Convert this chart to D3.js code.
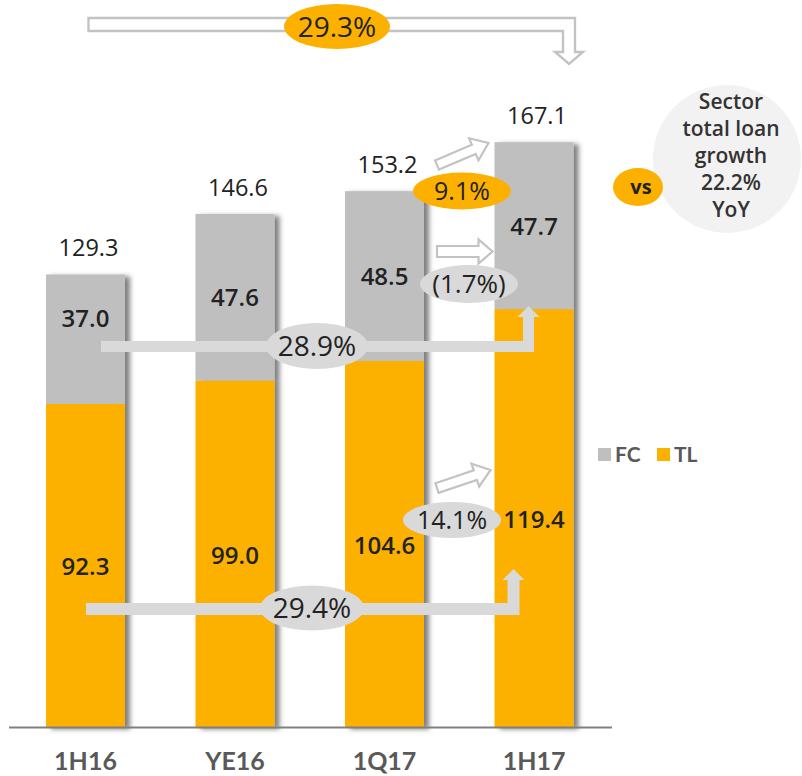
<!DOCTYPE html>
<html>
<head>
<meta charset="utf-8">
<script src="https://cdn.jsdelivr.net/npm/d3@7"></script>
<style>
  html, body { margin: 0; padding: 0; background: #fff; }
  svg { display: block; }
  text { font-family: "Open Sans", "Noto Sans", "DejaVu Sans", sans-serif; }
</style>
</head>
<body>
<svg id="chart" width="802" height="776"></svg>
<script>
// Loan book by currency (TL bn)
const categories  = ["1H16", "YE16", "1Q17", "1H17"];
const tlValues    = [92.3, 99.0, 104.6, 119.4];
const fcValues    = [37.0, 47.6, 48.5, 47.7];
const totalValues = [129.3, 146.6, 153.2, 167.1];
const seriesNames = ["FC", "TL"];

// Growth call-outs: [total, FC, TL]
const yoyLabels = ["29.3%", "28.9%", "29.4%"];   // 1H16 -> 1H17
const qoqLabels = ["9.1%", "(1.7%)", "14.1%"];   // 1Q17 -> 1H17
const sectorLines = ["Sector", "total loan", "growth", "22.2%", "YoY"];
const vsLabel = "vs";

const ORANGE = "#FCB100", GREY = "#BFBFBF", LIGHT = "#D9D9D9",
      OUTLINE = "#C3C3C3", INK = "#222222", AXIS_INK = "#595959";

const svg = d3.select("#chart");

// drop shadow cast to the right of each column
const defs = svg.append("defs");
defs.append("filter").attr("id", "colShadow")
    .attr("x", "-20%").attr("y", "-10%").attr("width", "160%").attr("height", "120%")
  .append("feDropShadow")
    .attr("dx", 5).attr("dy", 2).attr("stdDeviation", 2.6)
    .attr("flood-color", "#000").attr("flood-opacity", 0.5);

const x = d3.scaleBand().domain(categories).range([46, 573.5])
    .paddingInner(0.4716).paddingOuter(0);
const y = d3.scaleLinear().domain([0, 200]).range([727, 27]);
const bw = x.bandwidth();
const cx = c => x(c) + bw / 2;

const rows = categories.map((c, i) => ({ cat: c, TL: tlValues[i], FC: fcValues[i], total: totalValues[i] }));
const stack = d3.stack().keys(["TL", "FC"])(rows);
const colour = d3.scaleOrdinal().domain(seriesNames).range([GREY, ORANGE]);

// ---- columns ----
const cols = svg.append("g").selectAll("g.col")
  .data(rows).join("g").attr("class", "col").attr("filter", "url(#colShadow)");
cols.each(function (d, i) {
  const g = d3.select(this);
  stack.forEach(layer => {
    const s = layer[i];
    g.append("rect")
      .attr("x", x(d.cat)).attr("width", bw)
      .attr("y", y(s[1])).attr("height", y(s[0]) - y(s[1]))
      .attr("fill", colour(layer.key));
  });
});

// ---- baseline + category axis ----
svg.append("line").attr("x1", 9).attr("x2", 612).attr("y1", 727.5).attr("y2", 727.5)
  .attr("stroke", "#808080").attr("stroke-width", 2.2);

const axis = svg.append("g").attr("transform", `translate(0,${y(0)})`)
  .call(d3.axisBottom(x).tickSize(0).tickPadding(0));
axis.select(".domain").remove();
axis.selectAll("text")
  .attr("y", 43).attr("dy", null)
  .style("font-family", "Lato, 'Open Sans', sans-serif")
  .style("font-size", "25px").style("font-weight", 700).attr("fill", AXIS_INK);

// ---- YoY growth arrows (drawn before labels) ----
function elbowArrow(x0, xs, yb, yTip, t, hw, hl) {
  const pts = [[x0, yb - t / 2], [xs - t / 2, yb - t / 2], [xs - t / 2, yTip + hl],
               [xs - hw / 2, yTip + hl], [xs, yTip], [xs + hw / 2, yTip + hl],
               [xs + t / 2, yTip + hl], [xs + t / 2, yb + t / 2], [x0, yb + t / 2]];
  svg.append("polygon").attr("points", pts.map(p => p.join(",")).join(" ")).attr("fill", LIGHT);
}
const last = categories[3], first = categories[0];
const fcArrowY = 346.5, tlArrowY = 609;
elbowArrow(cx(first) + 15.5, x(last) + 34, fcArrowY, y(tlValues[3]) - 3, 11, 22, 11);
elbowArrow(cx(first) + 0.5, x(last) + 19, tlArrowY, 569, 12, 22, 11);

// ---- segment labels ----
const segLabel = svg.append("g").attr("font-size", 24).attr("font-weight", 600).attr("fill", INK)
  .attr("text-anchor", "middle");
rows.forEach((d, i) => {
  // TL
  const tlMid = (y(0) + y(d.TL)) / 2;
  segLabel.append("text").attr("x", cx(d.cat)).attr("y", tlMid + 10).text(d.TL.toFixed(1));
  // FC (lifted above the growth arrow when they would collide)
  const fcMid = (y(d.TL) + y(d.TL + d.FC)) / 2;
  let by = fcMid + 9;
  if (by > fcArrowY - 5.5 - 14 && by - 18 < fcArrowY + 5.5) by = fcArrowY - 5.5 - 14;
  segLabel.append("text").attr("x", cx(d.cat)).attr("y", by).text(d.FC.toFixed(1));
});

// totals above columns
svg.append("g").attr("font-size", 23.5).attr("fill", INK).attr("text-anchor", "middle")
  .selectAll("text").data(rows).join("text")
  .attr("x", d => cx(d.cat) + 3).attr("y", d => y(d.total) - 18)
  .text(d => d.total.toFixed(1));

// ---- top outlined arrow for total YoY ----
{
  const x0 = cx(first) + 3, xs = x(last) + bw - 4.5;
  const pts = [[x0, 18], [xs + 6, 18], [xs + 6, 52], [xs + 14, 52], [xs, 64],
               [xs - 14, 52], [xs - 6, 52], [xs - 6, 31], [x0, 31]];
  svg.append("polygon").attr("points", pts.map(p => p.join(",")).join(" "))
    .attr("fill", "#fff").attr("stroke", OUTLINE).attr("stroke-width", 2.4);
}

// ---- outlined block arrows for QoQ ----
function blockArrow(x1, y1, x2, y2, bodyW, headW, headL) {
  const L = Math.hypot(x2 - x1, y2 - y1);
  const ang = Math.atan2(y2 - y1, x2 - x1) * 180 / Math.PI;
  const pts = [[0, -bodyW / 2], [L - headL, -bodyW / 2], [L - headL, -headW / 2], [L, 0],
               [L - headL, headW / 2], [L - headL, bodyW / 2], [0, bodyW / 2]];
  svg.append("polygon").attr("points", pts.map(p => p.join(",")).join(" "))
    .attr("transform", `translate(${x1},${y1}) rotate(${ang})`)
    .attr("fill", "#fff").attr("stroke", OUTLINE).attr("stroke-width", 2.2)
    .attr("stroke-linejoin", "miter");
}
const qx0 = x(categories[2]) + bw + 13, qx1 = x(last) - 2;
blockArrow(qx0, 165, qx1 - 4, 143, 10, 24, 16);
blockArrow(qx0, 251.5, qx1, 251.5, 11, 24, 14);
blockArrow(qx0, 488, qx1 - 2, 470, 10, 24, 16);

// ---- call-out ellipses ----
function bubble(cxp, cyp, rx, ry, fill, label, size, weight) {
  svg.append("ellipse").attr("cx", cxp).attr("cy", cyp).attr("rx", rx).attr("ry", ry).attr("fill", fill);
  svg.append("text").attr("x", cxp).attr("y", cyp).attr("dy", "0.36em")
    .attr("text-anchor", "middle").attr("font-size", size).attr("font-weight", weight || 400)
    .attr("fill", INK).text(label);
}
bubble(337, 26.5, 53, 22.5, ORANGE, yoyLabels[0], 28);
bubble(317, 346, 51, 23, LIGHT, yoyLabels[1], 28);
bubble(312, 608, 52, 22.5, LIGHT, yoyLabels[2], 28);
bubble(462, 191, 49, 18.5, ORANGE, qoqLabels[0], 25);
bubble(469, 284, 49, 19, LIGHT, qoqLabels[1], 26);
bubble(452, 520, 49, 18, LIGHT, qoqLabels[2], 25);

// ---- sector comparison ----
svg.append("circle").attr("cx", 727).attr("cy", 159).attr("r", 74).attr("fill", "#F2F2F2");
svg.append("ellipse").attr("cx", 638).attr("cy", 187).attr("rx", 25).attr("ry", 19).attr("fill", ORANGE);
svg.append("text").attr("x", 641).attr("y", 194).attr("text-anchor", "middle")
  .attr("font-size", 20).attr("font-weight", 700).attr("fill", INK).text(vsLabel);
svg.append("g").attr("text-anchor", "middle").attr("font-size", 21).attr("font-weight", 600)
  .attr("fill", "#333").selectAll("text").data(sectorLines).join("text")
  .attr("x", 731).attr("y", (d, i) => 109 + i * 27).text(d => d);

// ---- legend ----
const legend = svg.append("g").attr("transform", "translate(598,448)");
seriesNames.forEach((n, i) => {
  const g = legend.append("g").attr("transform", `translate(${i * 59},0)`);
  g.append("rect").attr("width", 13).attr("height", 13).attr("fill", colour(n));
  g.append("text").attr("x", 17).attr("y", 14).attr("font-size", 21).attr("font-weight", 700)
    .style("font-family", "Lato, 'Open Sans', sans-serif")
    .attr("fill", AXIS_INK).text(n);
});
</script>
</body>
</html>
